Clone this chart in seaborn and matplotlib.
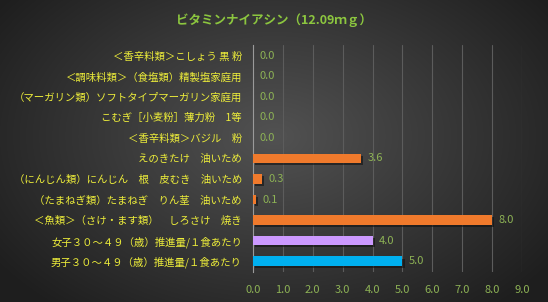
import numpy as np
import matplotlib
matplotlib.use("Agg")
import matplotlib.pyplot as plt
import matplotlib.patheffects as pe
import seaborn as sns
import pandas as pd

categories = [
    "＜香辛料類＞こしょう 黒 粉",
    "＜調味料類＞（食塩類）精製塩家庭用",
    "（マーガリン類）ソフトタイプマーガリン家庭用",
    "こむぎ［小麦粉］薄力粉　1等",
    "＜香辛料類＞バジル　粉",
    "えのきたけ　油いため",
    "（にんじん類）にんじん　根　皮むき　油いため",
    "（たまねぎ類）たまねぎ　りん茎　油いため",
    "＜魚類＞（さけ・ます類）　しろさけ　焼き",
    "女子３０～４９（歳）推進量/１食あたり",
    "男子３０～４９（歳）推進量/１食あたり",
]
values = [0.0, 0.0, 0.0, 0.0, 0.0, 3.6, 0.3, 0.1, 8.0, 4.0, 5.0]
bar_colors = ["#F07A2C"] * 9 + ["#CC99FF", "#00B0F0"]
xticks = [0, 1, 2, 3, 4, 5, 6, 7, 8, 9]
title = "ビタミンナイアシン（12.09ｍｇ）"

sns.set_theme(style="white")
plt.rcParams['font.family'] = ['Noto Sans CJK JP', 'DejaVu Sans']

W, H = 548, 302
fig = plt.figure(figsize=(W / 100, H / 100), dpi=100)

# background radial gradient
bg = fig.add_axes([0, 0, 1, 1], zorder=-10)
yy, xx = np.mgrid[0:H, 0:W]
d = np.sqrt(((xx - W * 0.5) / (W * 0.62)) ** 2 + ((yy - H * 0.45) / (H * 0.75)) ** 2)
d = np.clip(d, 0, 1)
inner = np.array([0x52, 0x52, 0x52]) / 255
outer = np.array([0x1e, 0x1e, 0x1e]) / 255
img = inner[None, None, :] * (1 - d[..., None]) + outer[None, None, :] * d[..., None]
bg.imshow(img, aspect="auto", extent=[0, 1, 0, 1])
bg.axis("off")

ax = fig.add_axes([253 / W, 1 - 271.5 / H, (522 - 253) / W, (271.5 - 45.3) / H])
ax.set_facecolor("none")

df = pd.DataFrame({"cat": categories, "val": values})
sns.barplot(data=df, x="val", y="cat", hue="cat", palette=bar_colors,
            legend=False, orient="h", width=0.46, ax=ax, saturation=1,
            linewidth=0, edgecolor="none", zorder=3)

for p in ax.patches:
    p.set_path_effects([pe.SimplePatchShadow(offset=(1.5, -1.5), shadow_rgbFace="#111111", alpha=0.6), pe.Normal()])

for i, v in enumerate(values):
    ax.text(v + 0.22, i, f"{v:.1f}", va="center", ha="left", color="#8DB255", fontsize=8, zorder=4)

ax.set_xlim(0, 9)
ax.set_xticks(xticks)
ax.set_xticklabels([f"{t:.1f}" for t in xticks], color="#8DB255", fontsize=8)
ax.tick_params(axis="x", length=0, pad=10)
ax.tick_params(axis="y", length=0, pad=8, labelsize=7.5, labelcolor="#EDED3A")
ax.set_xlabel("")
ax.set_ylabel("")
ax.grid(axis="x", color="#5c5c5c", linewidth=0.8, zorder=0)
ax.set_axisbelow(True)
for s in ["top", "right", "bottom"]:
    ax.spines[s].set_visible(False)
ax.spines["left"].set_color("#9a9a9a")
ax.spines["left"].set_linewidth(0.8)

fig.text(0.5, 1 - 20 / H, title, ha="center", va="center", color="#8CC63F",
         fontsize=9, fontweight="bold")

fig.savefig("out.png", dpi=100)
